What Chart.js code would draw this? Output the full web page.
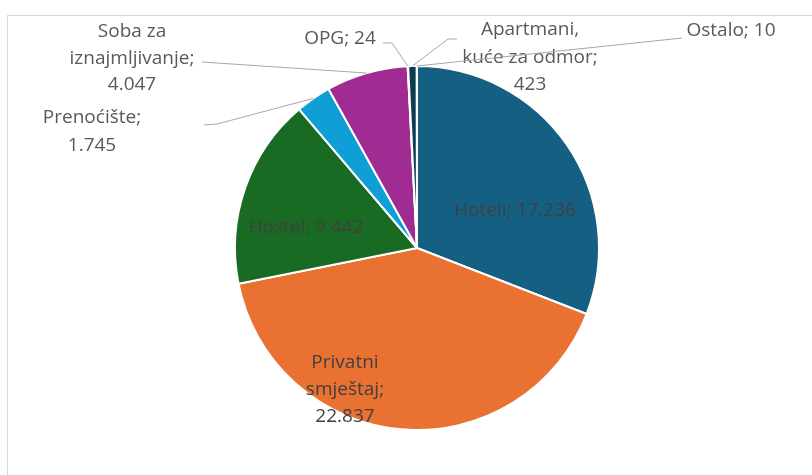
<!DOCTYPE html>
<html>
<head>
<meta charset="utf-8">
<script src="https://cdn.jsdelivr.net/npm/chart.js@4.4.0/dist/chart.umd.min.js"></script>
<style>
  html, body { margin: 0; padding: 0; background: #ffffff; }
  #wrap { position: relative; width: 812px; height: 475px; overflow: hidden; }
  #frame { position: absolute; left: 7px; top: 15px; width: 820px; height: 480px;
           border-top: 1px solid #d9d9d9; border-left: 1px solid #d9d9d9; box-sizing: border-box; }
  canvas { position: absolute; left: 0; top: 0; }
</style>
</head>
<body>
<div id="wrap">
  <div id="frame"></div>
  <canvas id="c" width="812" height="475"></canvas>
</div>
<script>
// ---- data ----
const categories = ['Hoteli', 'Privatni smještaj', 'Hostel', 'Prenoćište', 'Soba za iznajmljivanje', 'OPG', 'Apartmani, kuće za odmor', 'Ostalo'];
const values = [17236, 22837, 9442, 1745, 4047, 24, 423, 10];
const valueLabels = ['17.236', '22.837', '9.442', '1.745', '4.047', '24', '423', '10'];
const sliceColors = ['#156082', '#E97132', '#196B24', '#0F9ED5', '#A02B93', '#4EA72E', '#0E3A52', '#8A3E14'];

// ---- label layout (positions only) ----
const labelLayout = [
  { x: 515, y: 211, breaks: null, inside: true },
  { x: 345, y: 363, breaks: [1, 1, 1], lineH: 27, inside: true },
  { x: 306, y: 228, breaks: null, inside: true },
  { x: 92, y: 118, breaks: [1, 1], lineH: 28, leader: [[217, 124], [204, 125]] },
  { x: 132, y: 32, breaks: [2, 1, 1], lineH: 26.5, leader: [[202, 62]] },
  { x: 340, y: 39, breaks: null, leader: [[392, 43], [383, 43]] },
  { x: 530, y: 30, breaks: [1, 3, 1], lineH: 27.5, leader: [[448, 39], [457, 39]] },
  { x: 731, y: 31, breaks: null, leader: [[682, 38]] }
];

function labelLines(i) {
  const words = (categories[i] + '; ' + valueLabels[i]).split(' ');
  const br = labelLayout[i].breaks;
  if (!br) return [words.join(' ')];
  const out = []; let k = 0;
  br.forEach(n => { out.push(words.slice(k, k + n).join(' ')); k += n; });
  return out;
}

const labelPlugin = {
  id: 'excelLabels',
  afterDraw(chart) {
    const ctx = chart.ctx;
    const meta = chart.getDatasetMeta(0);
    ctx.save();
    labelLayout.forEach((L, i) => {
      const arc = meta.data[i];
      if (L.leader) {
        const mid = (arc.startAngle + arc.endAngle) / 2;
        const r = arc.outerRadius;
        ctx.beginPath();
        ctx.moveTo(arc.x + Math.cos(mid) * r, arc.y + Math.sin(mid) * r);
        L.leader.forEach(p => ctx.lineTo(p[0], p[1]));
        ctx.strokeStyle = '#a6a6a6';
        ctx.lineWidth = 1;
        ctx.stroke();
      }
      const lines = labelLines(i);
      ctx.font = '19px "Open Sans", "Noto Sans", sans-serif';
      ctx.fillStyle = L.inside ? '#404040' : '#595959';
      ctx.textAlign = 'center';
      ctx.textBaseline = 'middle';
      lines.forEach((t, k) => ctx.fillText(t, L.x, L.y + k * (L.lineH || 27)));
    });
    ctx.restore();
  }
};

new Chart(document.getElementById('c'), {
  type: 'pie',
  data: {
    labels: categories,
    datasets: [{
      data: values,
      backgroundColor: sliceColors,
      borderColor: '#ffffff',
      borderWidth: 2
    }]
  },
  options: {
    responsive: false,
    animation: false,
    devicePixelRatio: 1,
    layout: { padding: { top: 65, bottom: 44, left: 234, right: 212 } },
    plugins: { legend: { display: false }, tooltip: { enabled: false } }
  },
  plugins: [labelPlugin]
});
</script>
</body>
</html>
